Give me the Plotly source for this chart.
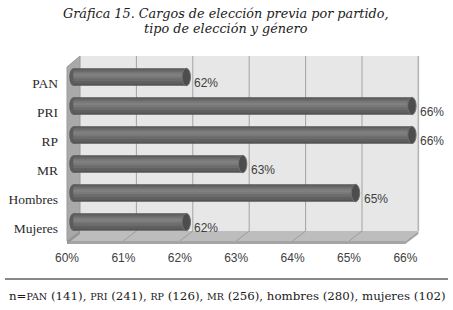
import plotly.graph_objects as go

# ---------------- data ----------------
categories = ["PAN", "PRI", "RP", "MR", "Hombres", "Mujeres"]
values = [62, 66, 66, 63, 65, 62]
value_labels = ["62%", "66%", "66%", "63%", "65%", "62%"]
tick_values = [60, 61, 62, 63, 64, 65, 66]
tick_labels = ["60%", "61%", "62%", "63%", "64%", "65%", "66%"]
title_line1 = "Gráfica 15. Cargos de elección previa por partido,"
title_line2 = "tipo de elección y género"
footnote = ("n=<span style='font-size:9.5px'>PAN</span> (141), "
            "<span style='font-size:9.5px'>PRI</span> (241), "
            "<span style='font-size:9.5px'>RP</span> (126), "
            "<span style='font-size:9.5px'>MR</span> (256), hombres (280), mujeres (102)")

# ---------------- layout geometry ----------------
W, H = 453, 310
AX_MIN, AX_MAX = tick_values[0], tick_values[-1]
PX_PER = 56.4          # pixels per percentage point
X0PX = 73.5            # pixel where the axis minimum sits (bar plane)
DL, DR = 60, 430       # x domain in pixels
xr = [AX_MIN - (X0PX - DL) / PX_PER, AX_MIN + (DR - X0PX) / PX_PER]
DEPTH = 6.5 / PX_PER   # half depth of the 3D box, in axis units

ROW0 = 77.0            # pixel centre of first row
ROWH = 29.0            # pixel spacing of rows
YT, YB = 50, 250       # y domain in pixels
yr = [(YB - ROW0) / ROWH, (YT - ROW0) / ROWH]
ysh = 6.0 / ROWH
yr2 = [yr[0] - ysh, yr[1] - ysh]
ydom = [1 - YB / H, 1 - YT / H]
xdom = [DL / W, DR / W]

def py(p):
    return (p - ROW0) / ROWH

idx = list(range(len(categories)))

fig = go.Figure()

# cylinder-like bars: layered bars with lighter bands
bands = [
    (0.60, -0.30, "#545454"),
    (0.50, -0.27, "#606060"),
    (0.36, -0.22, "#6c6c6c"),
    (0.20, -0.16, "#787878"),
    (0.08, -0.11, "#808080"),
]
lengths = [v - AX_MIN for v in values]
for wdt, off, col in bands:
    fig.add_trace(go.Bar(
        y=idx, x=lengths, base=AX_MIN, orientation="h",
        width=wdt, offset=off, marker=dict(color=col, line=dict(width=0)),
        hoverinfo="skip", showlegend=False))

# helper trace for secondary axes (labels)
fig.add_trace(go.Scatter(x=values, y=idx, xaxis="x2", yaxis="y2",
                         mode="markers", marker=dict(opacity=0),
                         hoverinfo="skip", showlegend=False))

shapes = []
top_back = py(56)
floor_back = py(231)
floor_front = py(241)
floor_edge = py(244)
left_front_top = py(67)
xb0, xb1 = AX_MIN + DEPTH, AX_MAX + DEPTH
xf0, xf1 = AX_MIN - DEPTH, AX_MAX - DEPTH

# back wall
shapes.append(dict(type="rect", xref="x", yref="y", x0=xb0, x1=xb1,
                   y0=top_back, y1=floor_back, fillcolor="#e7e7e7",
                   line=dict(width=0), layer="below"))
# gridlines on back wall
for t in tick_values[1:]:
    shapes.append(dict(type="line", xref="x", yref="y", x0=t + DEPTH, x1=t + DEPTH,
                       y0=top_back, y1=floor_back,
                       line=dict(color="#a3a3a3", width=1), layer="below"))
# floor
shapes.append(dict(type="path", xref="x", yref="y",
                   path=f"M {xb0} {floor_back} L {xb1} {floor_back} L {xf1} {floor_front} L {xf0} {floor_front} Z",
                   fillcolor="#bdbdbd", line=dict(width=0), layer="below"))
shapes.append(dict(type="path", xref="x", yref="y",
                   path=f"M {xf0} {floor_front} L {xf1} {floor_front} L {xb1} {floor_back} L {xb1} {py(234)} L {xf1} {floor_edge} L {xf0} {floor_edge} Z",
                   fillcolor="#a5a5a5", line=dict(width=0), layer="below"))
for t in tick_values[1:-1]:
    shapes.append(dict(type="line", xref="x", yref="y", x0=t + DEPTH, x1=t - DEPTH,
                       y0=floor_back, y1=floor_front,
                       line=dict(color="#9c9c9c", width=1), layer="below"))
# left wall
shapes.append(dict(type="path", xref="x", yref="y",
                   path=f"M {xb0} {top_back} L {xb0} {floor_back} L {xf0} {floor_front} L {xf0} {left_front_top} Z",
                   fillcolor="#a9a9a9", line=dict(color="#9a9a9a", width=1), layer="below"))
shapes.append(dict(type="path", xref="x", yref="y",
                   path=f"M {xf0} {floor_front} L {xb0} {floor_back} L {xb0} {py(234)} L {xf0} {floor_edge} Z",
                   fillcolor="#959595", line=dict(width=0), layer="below"))
# right edge of back wall
shapes.append(dict(type="line", xref="x", yref="y", x0=xb1, x1=xb1, y0=top_back, y1=floor_back,
                   line=dict(color="#b5b5b5", width=1.5), layer="below"))

# rounded ends of the cylinders
CAP = 4.2 / PX_PER
for i, v in zip(idx, values):
    shapes.append(dict(type="circle", xref="x", yref="y",
                       x0=AX_MIN - CAP, x1=AX_MIN + CAP, y0=i - 0.30, y1=i + 0.30,
                       fillcolor="#5c5c5c", line=dict(width=0), layer="below"))
    shapes.append(dict(type="circle", xref="x", yref="y",
                       x0=v - CAP, x1=v + CAP, y0=i - 0.30, y1=i + 0.30,
                       fillcolor="#4d4d4d", line=dict(color="#707070", width=1), layer="above"))

# footnote rule
shapes.append(dict(type="line", xref="paper", yref="paper", x0=5 / W, x1=448 / W,
                   y0=1 - 279 / H, y1=1 - 279 / H, line=dict(color="#111111", width=1)))

annotations = []
for i, v, lab in zip(idx, values, value_labels):
    annotations.append(dict(x=v, y=i, xref="x", yref="y2", text=lab, showarrow=False,
                            xanchor="left", xshift=6,
                            font=dict(family="Liberation Sans", size=12, color="#404040")))
annotations.append(dict(x=226 / W, y=1 - 13 / H, xref="paper", yref="paper", text=title_line1,
                        showarrow=False, xanchor="center", yanchor="middle",
                        font=dict(family="DejaVu Serif", size=12.8, color="#1a1a1a", style="italic")))
annotations.append(dict(x=226 / W, y=1 - 29 / H, xref="paper", yref="paper", text=title_line2,
                        showarrow=False, xanchor="center", yanchor="middle",
                        font=dict(family="DejaVu Serif", size=12.8, color="#1a1a1a", style="italic")))
annotations.append(dict(x=227 / W, y=1 - 296 / H, xref="paper", yref="paper", text=footnote,
                        showarrow=False, xanchor="center", yanchor="middle",
                        font=dict(family="DejaVu Serif", size=11.8, color="#1a1a1a")))

fig.update_layout(
    template="none",
    width=W, height=H, margin=dict(l=0, r=0, t=0, b=0, pad=0),
    paper_bgcolor="white", plot_bgcolor="rgba(0,0,0,0)",
    barmode="overlay", showlegend=False, hovermode=False,
    shapes=shapes, annotations=annotations,
    xaxis=dict(domain=xdom, range=xr, showgrid=False, zeroline=False, automargin=False,
               showticklabels=False, showline=False, fixedrange=True),
    yaxis=dict(domain=ydom, range=yr, showgrid=False, zeroline=False, automargin=False,
               showticklabels=False, showline=False, fixedrange=True),
    xaxis2=dict(overlaying="x", anchor="free", position=1 - 249 / H, side="bottom",
                range=[xr[0] + DEPTH, xr[1] + DEPTH], automargin=False, fixedrange=True,
                tickmode="array", tickvals=tick_values, ticktext=tick_labels,
                showgrid=False, zeroline=False, showline=False, ticks="",
                tickfont=dict(family="Liberation Sans", size=12, color="#404040")),
    yaxis2=dict(overlaying="y", anchor="free", position=58 / W, side="left",
                range=yr2, automargin=False, fixedrange=True,
                tickmode="array", tickvals=idx, ticktext=categories,
                showgrid=False, zeroline=False, showline=False, ticks="",
                tickfont=dict(family="Liberation Serif", size=13.5, color="#2a2a2a")),
)

fig.write_html("out.html", config={"displayModeBar": False},
               post_script="document.body.style.margin='0';document.body.style.padding='0';")
